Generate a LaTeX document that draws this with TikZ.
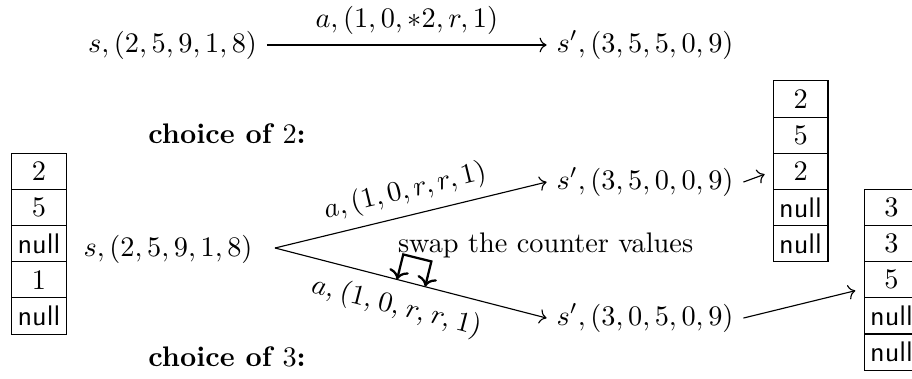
\documentclass[tikz,border=0pt]{standalone}
\usepackage{tikz}
\usetikzlibrary{arrows.meta,positioning,calc,decorations.text}
\usepackage{amsmath,amssymb}
\newcommand{\nullv}{\textsf{null}}
\tikzset{
  cell/.style={draw,minimum width=0.68cm,minimum height=0.45cm,inner sep=0pt},
  trans/.style={-{To}},
}

\begin{document}
\begin{tikzpicture}
  \useasboundingbox (0,0) rectangle (11.327,-4.695);

  % single transition
  \node (src) at (2.143,-0.559) {$s,(2,5,9,1,8)$};
  \node (dst) at (8.011,-0.559) {$s',(3,5,5,0,9)$};
  \draw[trans] (src) -- node[above] {$a,(1,0,*2,r,1)$} (dst);

  \node[font=\bfseries] (c2) at (2.820,-1.664) {choice of $2$:};
  \node[font=\bfseries] (c3) at (2.820,-4.434) {choice of $3$:};

  % stacks
  \foreach \v [count=\i from 3] in {2,5,\nullv,1,\nullv}
    \node[cell] (in\i) at (0.484,{-1.230-0.449*(\i-1)}) {\v};
  \foreach \v [count=\i] in {2,5,2,\nullv,\nullv}
    \node[cell] (up\i) at (9.943,{-1.230-0.449*(\i-1)}) {\v};
  \foreach \v [count=\i from 4] in {3,3,5,\nullv,\nullv}
    \node[cell] (lo\i) at (11.073,{-1.230-0.449*(\i-1)}) {\v};

  % the two choices
  \node (mid) at (2.087,-3.099) {$s,(2,5,9,1,8)$};
  \coordinate (fork) at (3.416,-3.080);
  \node (dstA) at (8.011,-2.261) {$s',(3,5,0,0,9)$};
  \node (dstB) at (8.011,-3.950) {$s',(3,0,5,0,9)$};
  \draw[trans] (fork) -- node[above,sloped] {$a,(1,0,r,r,1)$} (dstA.west);
  \draw[trans] (fork) -- (dstB.west);
  \path[decorate,decoration={text along path,raise=-12pt,
    text align={align=left,left indent=16pt},
    text={{$a,\:$}{$($}{$1,\:$}{$0,\:$}{$r,\:$}{$r,\:$}{$1$}{$)$}}}] (fork) -- (dstB.west);

  % swap
  \coordinate (swapA) at ($(fork)!1.565cm!(dstB.west)$);
  \draw[thick,{To}-{To}] (swapA) -- ++(76.1:0.32) -- ++(-13.9:0.36) -- ++(-103.9:0.32);
  \node (swaptxt) at (6.776,-3.043) {swap the counter values};

  \draw[trans,shorten >=3pt] (dstA.east) -- (up3.west);
  \draw[trans,shorten >=3pt] (dstB.east) -- ($(lo6.west)+(0,-0.11)$);
\end{tikzpicture}
\end{document}
